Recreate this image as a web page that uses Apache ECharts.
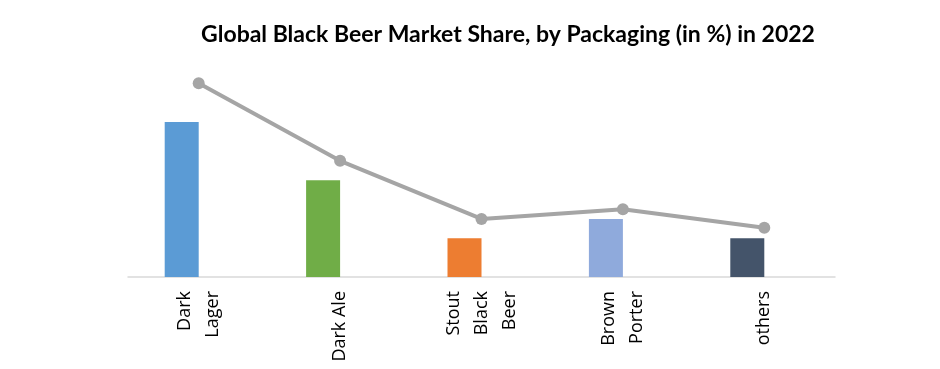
<!DOCTYPE html>
<html>
<head>
<meta charset="utf-8">
<script src="https://cdn.jsdelivr.net/npm/echarts@6/dist/echarts.min.js"></script>
<style>
html,body{margin:0;padding:0;background:#fff;}
#chart{width:940px;height:369px;}
</style>
</head>
<body>
<div id="chart"></div>
<script>
var categories = ['Dark\nLager', 'Dark Ale', 'Stout\nBlack\nBeer', 'Brown\nPorter', 'others'];
var barValues = [40, 25, 10, 15, 10];
var lineValues = [50, 30, 15, 17.5, 12.7];
var barColors = ['#5B9BD5', '#70AD47', '#ED7D31', '#8FAADC', '#44546A'];

var chart = echarts.init(document.getElementById('chart'));
chart.setOption({
  animation: false,
  backgroundColor: '#ffffff',
  title: {
    text: 'Global Black Beer Market Share, by Packaging (in %) in 2022',
    left: 503,
    top: 18,
    textAlign: 'center',
    textStyle: {fontFamily: 'Lato', fontWeight: 'bold', fontSize: 23, color: '#000'}
  },
  grid: {left: 128, right: 105, top: 64, bottom: 92},
  xAxis: {
    type: 'category',
    data: categories,
    axisLine: {lineStyle: {color: '#D9D9D9', width: 1.5}},
    axisTick: {show: false},
    axisLabel: {
      rotate: 90,
      margin: 14,
      interval: 0,
      fontFamily: 'Open Sans',
      fontSize: 18,
      lineHeight: 28,
      color: '#000'
    }
  },
  yAxis: {
    type: 'value',
    min: 0,
    max: 55,
    show: false,
    splitLine: {show: false}
  },
  series: [
    {
      type: 'bar',
      barWidth: 34,
      barGap: '0%',
      data: barValues.map(function (v, i) { return {value: v, itemStyle: {color: barColors[i]}}; })
    },
    {
      type: 'bar',
      barWidth: 34,
      data: barValues.map(function () { return null; })
    },
    {
      type: 'line',
      data: lineValues,
      symbol: 'circle',
      symbolSize: 12,
      lineStyle: {color: '#A5A5A5', width: 4},
      itemStyle: {color: '#A5A5A5'}
    }
  ]
});
</script>
</body>
</html>
